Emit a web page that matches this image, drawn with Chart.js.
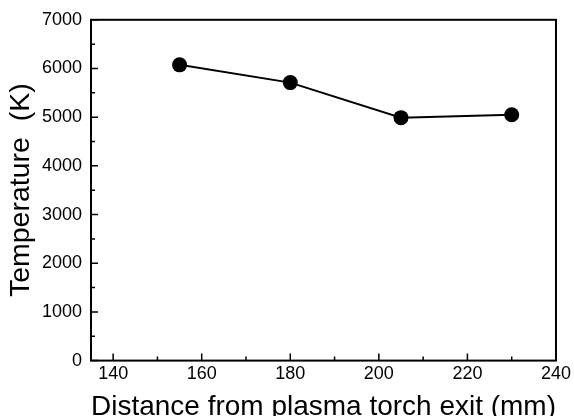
<!DOCTYPE html>
<html>
<head>
<meta charset="utf-8">
<script src="https://cdn.jsdelivr.net/npm/chart.js@4"></script>
<style>
  html, body { margin: 0; padding: 0; background: #fff; }
  #wrap { width: 574px; height: 416px; }
</style>
</head>
<body>
<div id="wrap"><canvas id="grafico" width="574" height="416"></canvas></div>
<script>
const distancias = [155, 180, 205, 230];
const temperaturas = [6075, 5710, 4990, 5050];
const xTicks = [140, 160, 180, 200, 220, 240];
const yTicks = [0, 1000, 2000, 3000, 4000, 5000, 6000, 7000];

const fonte = 'Arial, "Liberation Sans", sans-serif';

// moldura e marcas de escala para dentro
const moldura = {
  id: 'moldura',
  afterDraw(chart) {
    const { ctx, chartArea: a, scales } = chart;
    const x = scales.x;
    const y = scales.y;
    ctx.save();
    ctx.strokeStyle = '#000';
    ctx.lineWidth = 2;
    ctx.strokeRect(a.left, a.top, a.right - a.left, a.bottom - a.top);

    ctx.lineWidth = 1.5;
    ctx.beginPath();
    xTicks.forEach((v) => {
      const px = x.getPixelForValue(v);
      ctx.moveTo(px, a.bottom);
      ctx.lineTo(px, a.bottom - 7);
      const meio = v - (xTicks[1] - xTicks[0]) / 2;
      if (meio > x.min) {
        const pm = x.getPixelForValue(meio);
        ctx.moveTo(pm, a.bottom);
        ctx.lineTo(pm, a.bottom - 4);
      }
    });
    yTicks.forEach((v, i) => {
      const py = y.getPixelForValue(v);
      ctx.moveTo(a.left, py);
      ctx.lineTo(a.left + 7, py);
      if (i > 0) {
        const pm = y.getPixelForValue(v - (yTicks[1] - yTicks[0]) / 2);
        ctx.moveTo(a.left, pm);
        ctx.lineTo(a.left + 4, pm);
      }
    });
    ctx.stroke();
    ctx.restore();
  }
};

new Chart(document.getElementById('grafico'), {
  type: 'line',
  data: {
    datasets: [{
      data: distancias.map((d, i) => ({ x: d, y: temperaturas[i] })),
      borderColor: '#000',
      borderWidth: 2,
      backgroundColor: '#000',
      pointBackgroundColor: '#000',
      pointBorderColor: '#000',
      pointRadius: 7.5,
      pointBorderWidth: 0,
      tension: 0
    }]
  },
  options: {
    responsive: false,
    animation: false,
    layout: { padding: { left: 0, right: 16, top: 19, bottom: 0 } },
    plugins: {
      legend: { display: false },
      tooltip: { enabled: false }
    },
    scales: {
      x: {
        type: 'linear',
        min: 135,
        max: 240,
        afterBuildTicks: (axis) => { axis.ticks = xTicks.map(v => ({ value: v })); },
        afterFit: (scale) => { scale.height = 55.4; },
        grid: { display: false, drawTicks: false },
        border: { display: false },
        ticks: {
          color: '#000',
          padding: 3,
          maxRotation: 0,
          callback: (v) => String(v),
          font: { family: fonte, size: 18 }
        },
        title: {
          display: true,
          text: 'Distance from plasma torch exit (mm)',
          color: '#000',
          padding: { top: 0, bottom: 0 },
          font: { family: fonte, size: 28, lineHeight: 0.6 }
        }
      },
      y: {
        min: 0,
        max: 7000,
        afterBuildTicks: (axis) => { axis.ticks = yTicks.map(v => ({ value: v })); },
        afterFit: (scale) => { scale.width = 91; },
        grid: { display: false, drawTicks: false },
        border: { display: false },
        ticks: {
          color: '#000',
          padding: 9,
          callback: (v) => String(v),
          font: { family: fonte, size: 18 }
        },
        title: {
          display: true,
          text: 'Temperature  (K)',
          color: '#000',
          padding: { top: 4, bottom: 0 },
          font: { family: fonte, size: 28.5, lineHeight: 1.2 }
        }
      }
    }
  },
  plugins: [moldura]
});
</script>
</body>
</html>
